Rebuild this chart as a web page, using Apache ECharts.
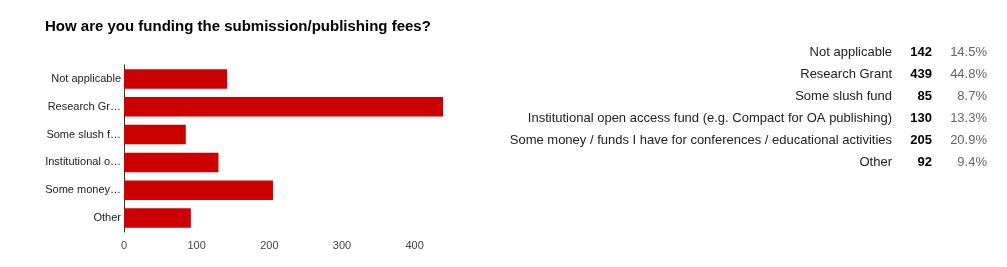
<!DOCTYPE html>
<html><head><meta charset="utf-8">
<script src="https://cdn.jsdelivr.net/npm/echarts@6/dist/echarts.min.js"></script>
<style>html,body{margin:0;padding:0;background:#fff}#c{width:1007px;height:267px}</style>
</head><body><div id="c"></div>
<script>
const categories = ["Not applicable","Research Grant","Some slush fund","Institutional open access fund (e.g. Compact for OA publishing)","Some money / funds I have for conferences / educational activities","Other"];
const axisLabels = ["Not applicable","Research Gr…","Some slush f…","Institutional o…","Some money…","Other"];
const counts = [142,439,85,130,205,92];
const percents = ["14.5%","44.8%","8.7%","13.3%","20.9%","9.4%"];
const titleText = "How are you funding the submission/publishing fees?";

const chart = echarts.init(document.getElementById('c'), null, {renderer:'canvas'});
const font = 'Arial, "Liberation Sans", sans-serif';
const graphics = [];
categories.forEach((c, i) => {
  const y = 52 + i * 22;
  graphics.push({type:'text', right: 1007-892, top: y-6, style:{text:c, font:'13px '+font, fill:'#222', textAlign:'right'}});
  graphics.push({type:'text', right: 1007-932, top: y-6, style:{text:String(counts[i]), font:'bold 13px '+font, fill:'#000', textAlign:'right'}});
  graphics.push({type:'text', right: 1007-987, top: y-6, style:{text:percents[i], font:'13px '+font, fill:'#666', textAlign:'right'}});
});
chart.setOption({
  animation:false,
  textStyle:{fontFamily:font},
  title:{text:titleText, left:45, top:19, padding:0, textStyle:{fontSize:15, fontWeight:'bold', color:'#000', fontFamily:font}},
  grid:{left:124, right:564, top:65, bottom:35, containLabel:false},
  xAxis:{type:'value', min:0, max:'dataMax', interval:100,
    axisLine:{show:false}, axisTick:{show:false}, splitLine:{show:false},
    axisLabel:{color:'#444', fontSize:11, margin:8, showMaxLabel:false, formatter:v=> v%100===0 ? String(v) : ''}},
  yAxis:{type:'category', data:categories, inverse:true,
    axisLine:{show:true, lineStyle:{color:'#333', width:1}}, axisTick:{show:false},
    axisLabel:{color:'#222', fontSize:11, margin:3, formatter:(v, i)=>axisLabels[i]}},
  series:[{type:'bar', data:counts, barCategoryGap:'30%', itemStyle:{color:'#cc0000'}, silent:true}],
  graphic: graphics
});
</script></body></html>
